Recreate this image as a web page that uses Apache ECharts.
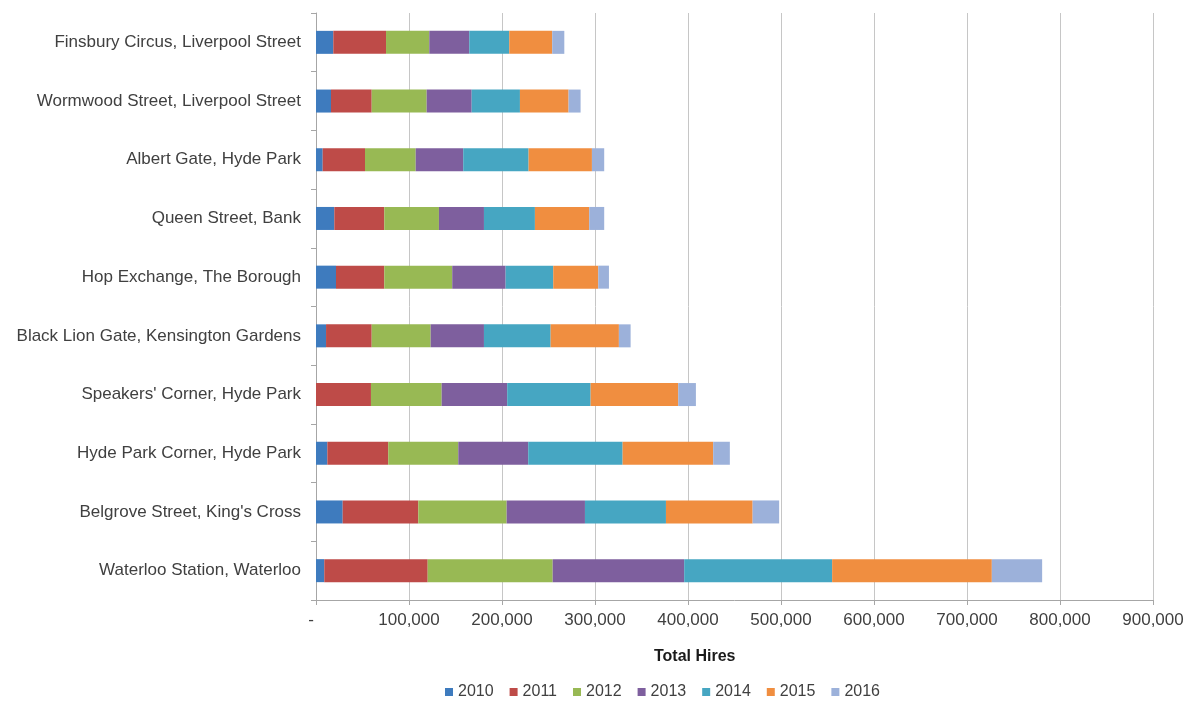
<!DOCTYPE html>
<html>
<head>
<meta charset="utf-8">
<script src="https://cdn.jsdelivr.net/npm/echarts@6/dist/echarts.min.js"></script>
<style>html,body{margin:0;padding:0;background:#fff}#c{width:1192px;height:707px}</style>
</head>
<body>
<div id="c"></div>
<script>
// Categories listed top to bottom
const stations = [
  "Finsbury Circus, Liverpool Street",
  "Wormwood Street, Liverpool Street",
  "Albert Gate, Hyde Park",
  "Queen Street, Bank",
  "Hop Exchange, The Borough",
  "Black Lion Gate, Kensington Gardens",
  "Speakers' Corner, Hyde Park",
  "Hyde Park Corner, Hyde Park",
  "Belgrove Street, King's Cross",
  "Waterloo Station, Waterloo"
];
const years = ["2010","2011","2012","2013","2014","2015","2016"];
const hires2010 = [18600, 16100, 7200, 19700, 21500, 10800, 0, 12200, 28700, 8900];
const hires2011 = [56700, 43800, 45500, 53700, 51900, 49100, 59100, 65500, 81300, 111200];
const hires2012 = [46500, 59100, 54500, 58800, 73100, 63400, 76000, 75300, 95000, 134400];
const hires2013 = [43000, 48400, 51100, 48400, 57400, 57300, 70500, 75200, 84200, 141400];
const hires2014 = [43000, 51900, 70300, 54800, 51200, 71700, 89700, 101500, 87100, 159100];
const hires2015 = [46200, 52300, 68100, 58400, 48400, 73400, 94200, 97400, 93200, 171700];
const hires2016 = [13000, 12900, 13200, 16100, 11500, 12600, 19000, 17900, 28500, 54100];
const xTicks = [0,100000,200000,300000,400000,500000,600000,700000,800000,900000];

const seriesValues = [hires2010, hires2011, hires2012, hires2013, hires2014, hires2015, hires2016];
const colors = ['#3E7BBE','#BE4B48','#98B954','#7E5F9E','#46A6C2','#F08E40','#9CB1DA'];
const font = 'Liberation Sans, Arial, sans-serif';

const chart = echarts.init(document.getElementById('c'));
chart.setOption({
  animation: false,
  color: colors,
  textStyle: { fontFamily: font },
  title: {
    text: 'Total Hires',
    left: 654, top: 649,
    padding: 0,
    textStyle: { fontFamily: font, fontSize: 16, fontWeight: 'bold', color: '#1a1a1a' }
  },
  legend: {
    data: years,
    left: 440, top: 679,
    itemWidth: 8, itemHeight: 8, itemGap: 16,
    icon: 'rect',
    textStyle: { fontFamily: font, fontSize: 16, color: '#404040' }
  },
  grid: { left: 316, right: 39, top: 13, bottom: 107, containLabel: false },
  xAxis: {
    type: 'value',
    min: 0, max: 900000, interval: 100000,
    axisLine: { show: true, lineStyle: { color: '#a6a6a6' } },
    axisTick: { show: true, length: 5, lineStyle: { color: '#a6a6a6' } },
    splitLine: { show: true, lineStyle: { color: '#c6c6c6', width: 1 } },
    axisLabel: {
      fontFamily: font, fontSize: 17, color: '#404040', margin: 12,
      formatter: v => v === 0 ? '{d|-}' : v.toLocaleString('en-US'),
      rich: { d: { fontFamily: font, fontSize: 17, color: '#404040', padding: [0, 10, 0, 0] } }
    }
  },
  yAxis: {
    type: 'category',
    data: stations,
    inverse: true,
    axisLine: { show: true, lineStyle: { color: '#a6a6a6' } },
    axisTick: { show: true, length: 5, lineStyle: { color: '#a6a6a6' } },
    axisLabel: { fontFamily: font, fontSize: 17, color: '#404040', margin: 15 },
    splitLine: { show: false }
  },
  series: years.map((y, i) => ({
    name: y,
    type: 'bar',
    stack: 'total',
    barWidth: 23,
    data: seriesValues[i]
  }))
});
</script>
</body>
</html>
